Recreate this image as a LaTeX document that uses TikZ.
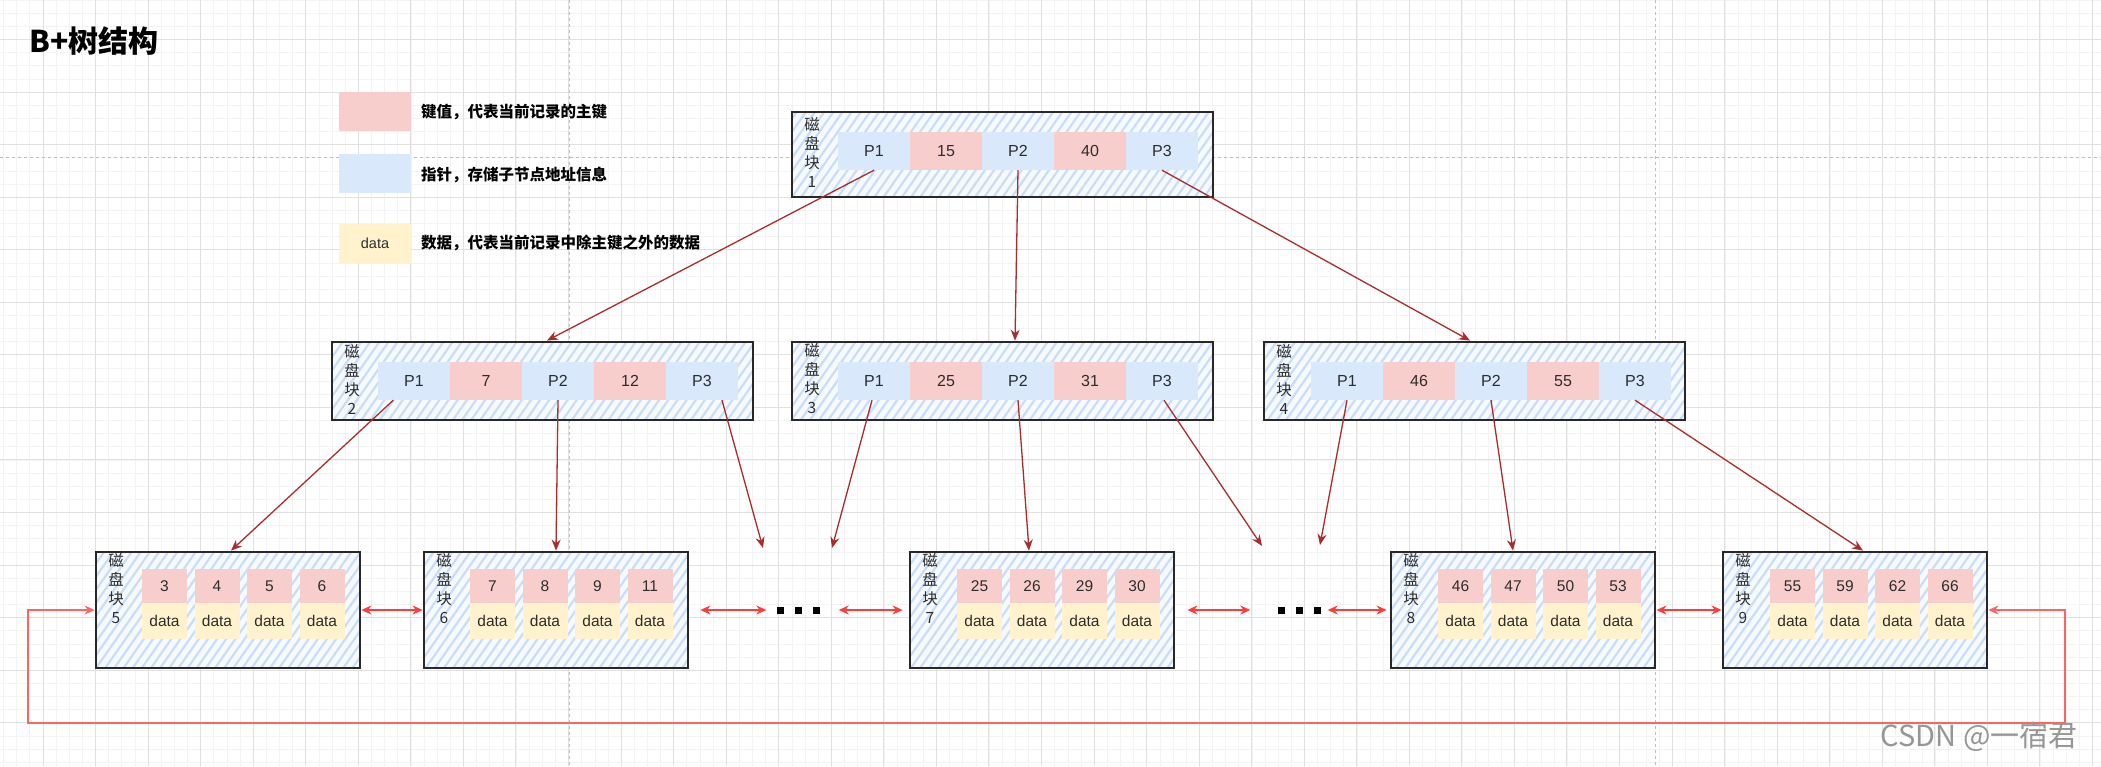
\documentclass[tikz,border=0pt]{standalone}
\usepackage{fontspec}
\setmainfont{Liberation Sans}
\newfontfamily\cjk{Noto Sans CJK SC}
\usetikzlibrary{patterns.meta,arrows.meta}
\definecolor{keyc}{RGB}{248,206,204}
\definecolor{ptrc}{RGB}{218,232,252}
\definecolor{datac}{RGB}{255,242,204}
\definecolor{hatch}{RGB}{200,221,247}
\definecolor{blockbg}{RGB}{246,250,255}
\definecolor{edgec}{RGB}{170,45,45}
\definecolor{linkc}{RGB}{255,60,60}
\definecolor{loopc}{RGB}{255,100,100}
\definecolor{gridminor}{RGB}{243,243,243}
\definecolor{gridmajor}{RGB}{224,224,224}
\definecolor{guide}{RGB}{190,190,190}
\definecolor{txt}{RGB}{45,45,45}
\definecolor{border}{RGB}{40,40,40}
\begin{document}
\begin{tikzpicture}[x=1pt,y=-1pt,
  cell/.style={minimum width=72pt,minimum height=38pt,inner sep=0pt,font=\fontsize{16}{16}\selectfont,text=txt},
  keycell/.style={cell,fill=keyc},
  ptrcell/.style={cell,fill=ptrc},
  lkey/.style={fill=keyc,minimum width=45pt,minimum height=34pt,inner sep=0pt,font=\fontsize{15.5}{15.5}\selectfont,text=txt},
  ldata/.style={fill=datac,minimum width=45pt,minimum height=36pt,inner sep=0pt,font=\fontsize{15.5}{15.5}\selectfont,text=txt},
  block/.style={draw=border,line width=2.8pt,preaction={fill=blockbg},pattern={Lines[angle=55,distance=7.5pt,line width=2.2pt]},pattern color=hatch,inner sep=0pt},
  iblock/.style={block,minimum width=421pt,minimum height=78pt},
  lblock/.style={block,minimum width=264pt,minimum height=116pt},
  blabel/.style={align=center,inner sep=0pt,font=\cjk\fontsize{15.5}{19}\selectfont,text=txt},
  legbox/.style={minimum width=72pt,minimum height=39pt,inner sep=0pt},
  legtext/.style={anchor=west,inner sep=0pt,font=\cjk\bfseries\fontsize{15.5}{15.5}\selectfont,text=black},
  tree/.style={draw=edgec,line width=1.3pt,-{Stealth[length=11pt,width=9pt]}},
  link/.style={draw=linkc,line width=1.6pt,{Stealth[length=10pt,width=9pt]}-{Stealth[length=10pt,width=9pt]}},
  loopl/.style={draw=loopc,line width=1.4pt,{Stealth[length=10pt,width=9pt]}-{Stealth[length=10pt,width=9pt]}},
  dotsq/.style={inner sep=0pt}
]
\path[use as bounding box,fill=white] (0,0) rectangle (2101,766);
% grid
\foreach \i in {0,...,160} \draw[gridminor,line width=0.8pt] ({3.6+13.14*\i},0) -- ++(0,766);
\foreach \i in {0,...,58} \draw[gridminor,line width=0.8pt] (0,{0.1+13.14*\i}) -- ++(2101,0);
\foreach \i in {0,...,39} \draw[gridmajor,line width=1pt] ({43+52.55*\i},0) -- ++(0,766);
\foreach \i in {-1,...,14} \draw[gridmajor,line width=1pt] (0,{39.5+52.55*\i}) -- ++(2101,0);
\draw[guide,dashed,line width=0.9pt] (0,157) -- (2101,157);
\draw[guide,dashed,line width=0.9pt] (569,0) -- (569,766);
\draw[guide,dashed,line width=0.9pt] (1655,0) -- (1655,766);

% title and legend
\node[anchor=west,inner sep=0pt,font=\cjk\bfseries\fontsize{30}{30}\selectfont] (title) at (29,41) {B+树结构};
\node[legbox,fill=keyc] (lk) at (375,111.5) {};
\node[legbox,fill=ptrc] (lp) at (375,173.5) {};
\node[legbox,fill=datac,font=\fontsize{14.5}{14.5}\selectfont,text=txt] (ld) at (375,243) {data};
\node[legtext] (tk) at (421,112) {键值，代表当前记录的主键};
\node[legtext] (tp) at (421,175) {指针，存储子节点地址信息};
\node[legtext] (td) at (421,243) {数据，代表当前记录中除主键之外的数据};

% root block 1
\node[block,minimum width=421pt,minimum height=85pt] (b1) at (1002.5,154.5) {};
\node[blabel] (l1) at (812,152) {磁\\盘\\块\\1};
\node[ptrcell] (c1p1) at (874,151) {P1};
\node[keycell] (c1k1) at (946,151) {15};
\node[ptrcell] (c1p2) at (1018,151) {P2};
\node[keycell] (c1k2) at (1090,151) {40};
\node[ptrcell] (c1p3) at (1162,151) {P3};

% block 2
\node[iblock] (b2) at (542.5,381) {};
\node[blabel] (l2) at (352,379) {磁\\盘\\块\\2};
\node[ptrcell] (c2p1) at (414,381) {P1};
\node[keycell] (c2k1) at (486,381) {7};
\node[ptrcell] (c2p2) at (558,381) {P2};
\node[keycell] (c2k2) at (630,381) {12};
\node[ptrcell] (c2p3) at (702,381) {P3};

% block 3
\node[iblock] (b3) at (1002.5,381) {};
\node[blabel] (l3) at (812,379) {磁\\盘\\块\\3};
\node[ptrcell] (c3p1) at (874,381) {P1};
\node[keycell] (c3k1) at (946,381) {25};
\node[ptrcell] (c3p2) at (1018,381) {P2};
\node[keycell] (c3k2) at (1090,381) {31};
\node[ptrcell] (c3p3) at (1162,381) {P3};

% block 4
\node[iblock] (b4) at (1474.5,381) {};
\node[blabel] (l4) at (1284,379) {磁\\盘\\块\\4};
\node[ptrcell] (c4p1) at (1347,381) {P1};
\node[keycell] (c4k1) at (1419,381) {46};
\node[ptrcell] (c4p2) at (1491,381) {P2};
\node[keycell] (c4k2) at (1563,381) {55};
\node[ptrcell] (c4p3) at (1635,381) {P3};

% leaf blocks
\node[lblock] (b5) at (228,610) {};
\node[lblock] (b6) at (556,610) {};
\node[lblock] (b7) at (1042,610) {};
\node[lblock] (b8) at (1523,610) {};
\node[lblock] (b9) at (1855,610) {};
\node[blabel,anchor=north] (l5) at (116,553) {磁\\盘\\块\\5};
\node[blabel,anchor=north] (l6) at (444,553) {磁\\盘\\块\\6};
\node[blabel,anchor=north] (l7) at (930,553) {磁\\盘\\块\\7};
\node[blabel,anchor=north] (l8) at (1411,553) {磁\\盘\\块\\8};
\node[blabel,anchor=north] (l9) at (1743,553) {磁\\盘\\块\\9};

\foreach \n/\x/\a/\b/\c/\d in {5/164.5/3/4/5/6, 6/492.5/7/8/9/11, 7/979.5/25/26/29/30, 8/1460.5/46/47/50/53, 9/1792.5/55/59/62/66}{
  \node[lkey] (k\n a) at (\x,586) {\a};
  \node[lkey] (k\n b) at (\x+52.5,586) {\b};
  \node[lkey] (k\n c) at (\x+105,586) {\c};
  \node[lkey] (k\n d) at (\x+157.5,586) {\d};
  \node[ldata] (d\n a) at (\x,621) {data};
  \node[ldata] (d\n b) at (\x+52.5,621) {data};
  \node[ldata] (d\n c) at (\x+105,621) {data};
  \node[ldata] (d\n d) at (\x+157.5,621) {data};
}

% ellipsis
\node[dotsq] (dots1) at (798,610) {\rule{7pt}{7pt}\hspace{11pt}\rule{7pt}{7pt}\hspace{11pt}\rule{7pt}{7pt}};
\node[dotsq] (dots2) at (1299,610) {\rule{7pt}{7pt}\hspace{11pt}\rule{7pt}{7pt}\hspace{11pt}\rule{7pt}{7pt}};

% free ends
\coordinate (e1) at (763,548);
\coordinate (e2) at (832,548);
\coordinate (e3) at (1262,546);
\coordinate (e4) at (1320,545);

% tree edges
\draw[tree] (c1p1.south) -- ([xshift=4.5pt]b2.north);
\draw[tree] (c1p2.south) -- ([xshift=12.5pt]b3.north);
\draw[tree] (c1p3.south) -- ([xshift=-4.5pt]b4.north);
\draw[tree] (c2p1) -- ([xshift=3pt]b5.north);
\draw[tree] (c2p2.south) -- (b6.north);
\draw[tree] ([xshift=20pt]c2p3.south) -- (e1);
\draw[tree] ([xshift=-2pt]c3p1.south) -- (e2);
\draw[tree] (c3p2.south) -- ([xshift=-13pt]b7.north);
\draw[tree] ([xshift=2pt]c3p3.south) -- (e3);
\draw[tree] (c4p1.south) -- (e4);
\draw[tree] (c4p2.south) -- ([xshift=-10pt]b8.north);
\draw[tree] (c4p3.south) -- ([xshift=8pt]b9.north);

% leaf links
\draw[link] (b5.east) -- (b6.west);
\draw[link] ([xshift=11pt]b6.east) -- ([xshift=-10pt]dots1.west);
\draw[link] ([xshift=19pt]dots1.east) -- ([xshift=-6pt]b7.west);
\draw[link] ([xshift=12pt]b7.east) -- ([xshift=-27pt]dots2.west);
\draw[link] ([xshift=7pt]dots2.east) -- ([xshift=-3pt]b8.west);
\draw[link] (b8.east) -- (b9.west);

% loop back
\coordinate (lr) at (2065,723);
\coordinate (ll) at (28,723);
\draw[loopl] (b9.east) -| (lr) -- (ll) |- (b5.west);

% watermark
\node[anchor=east,inner sep=0pt,font=\cjk\fontsize{29}{29}\selectfont,text={rgb,255:red,150;green,150;blue,150}] (wm) at (2078,737) {CSDN @一宿君};
\end{tikzpicture}
\end{document}
